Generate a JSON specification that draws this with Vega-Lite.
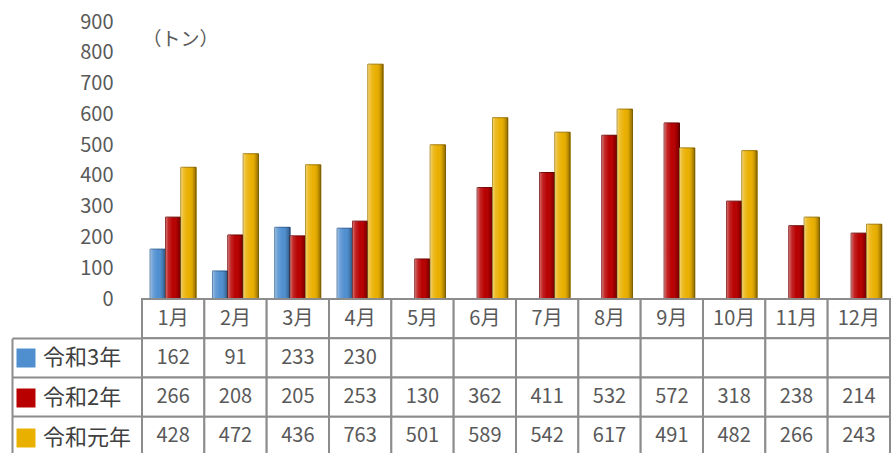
{
  "$schema": "https://vega.github.io/schema/vega-lite/v6.json",
  "background": "white",
  "padding": {"left": 11, "top": 12, "right": 6, "bottom": 0},
  "spacing": 0,
  "bounds": "flush",
  "config": {
    "view": {"stroke": null},
    "font": "Noto Sans CJK JP",
    "axis": {"labelFont": "Noto Sans CJK JP", "titleFont": "Noto Sans CJK JP"},
    "legend": {"labelFont": "Noto Sans CJK JP"}
  },
  "datasets": {
    "sales": [
      {"month": "1月", "series": "令和3年", "value": 162},
      {"month": "1月", "series": "令和2年", "value": 266},
      {"month": "1月", "series": "令和元年", "value": 428},
      {"month": "2月", "series": "令和3年", "value": 91},
      {"month": "2月", "series": "令和2年", "value": 208},
      {"month": "2月", "series": "令和元年", "value": 472},
      {"month": "3月", "series": "令和3年", "value": 233},
      {"month": "3月", "series": "令和2年", "value": 205},
      {"month": "3月", "series": "令和元年", "value": 436},
      {"month": "4月", "series": "令和3年", "value": 230},
      {"month": "4月", "series": "令和2年", "value": 253},
      {"month": "4月", "series": "令和元年", "value": 763},
      {"month": "5月", "series": "令和3年", "value": null},
      {"month": "5月", "series": "令和2年", "value": 130},
      {"month": "5月", "series": "令和元年", "value": 501},
      {"month": "6月", "series": "令和3年", "value": null},
      {"month": "6月", "series": "令和2年", "value": 362},
      {"month": "6月", "series": "令和元年", "value": 589},
      {"month": "7月", "series": "令和3年", "value": null},
      {"month": "7月", "series": "令和2年", "value": 411},
      {"month": "7月", "series": "令和元年", "value": 542},
      {"month": "8月", "series": "令和3年", "value": null},
      {"month": "8月", "series": "令和2年", "value": 532},
      {"month": "8月", "series": "令和元年", "value": 617},
      {"month": "9月", "series": "令和3年", "value": null},
      {"month": "9月", "series": "令和2年", "value": 572},
      {"month": "9月", "series": "令和元年", "value": 491},
      {"month": "10月", "series": "令和3年", "value": null},
      {"month": "10月", "series": "令和2年", "value": 318},
      {"month": "10月", "series": "令和元年", "value": 482},
      {"month": "11月", "series": "令和3年", "value": null},
      {"month": "11月", "series": "令和2年", "value": 238},
      {"month": "11月", "series": "令和元年", "value": 266},
      {"month": "12月", "series": "令和3年", "value": null},
      {"month": "12月", "series": "令和2年", "value": 214},
      {"month": "12月", "series": "令和元年", "value": 243}
    ],
    "months": [
      {"month": "1月"}, {"month": "2月"}, {"month": "3月"}, {"month": "4月"},
      {"month": "5月"}, {"month": "6月"}, {"month": "7月"}, {"month": "8月"},
      {"month": "9月"}, {"month": "10月"}, {"month": "11月"}, {"month": "12月"}
    ]
  },
  "vconcat": [
    {
      "width": 748,
      "height": 277,
      "data": {"name": "sales"},
      "transform": [{"filter": {"field": "value", "valid": true}}],
      "encoding": {
        "x": {
          "field": "month", "type": "nominal", "sort": null,
          "scale": {"paddingInner": 0, "paddingOuter": 0},
          "axis": {"title": null, "labels": false, "ticks": false, "domainColor": "#8c8c8c", "domainWidth": 2.5}
        },
        "xOffset": {
          "field": "series", "type": "nominal",
          "sort": ["令和3年", "令和2年", "令和元年"],
          "scale": {"domain": ["令和3年", "令和2年", "令和元年"], "paddingInner": 0, "paddingOuter": 0.53}
        },
        "y": {
          "field": "value", "type": "quantitative",
          "scale": {"domain": [0, 900], "nice": false},
          "axis": {
            "values": [0, 100, 200, 300, 400, 500, 600, 700, 800, 900],
            "grid": false, "domain": false, "ticks": false,
            "labelPadding": 29, "labelColor": "#595959", "labelFontSize": 20,
            "title": "（トン）", "titleAngle": 0, "titleX": 0, "titleY": 17,
            "titleAlign": "left", "titleBaseline": "middle",
            "titleColor": "#595959", "titleFontSize": 19, "titleFontWeight": "normal"
          }
        }
      },
      "layer": [
        {
          "mark": {"type": "bar", "strokeWidth": 1},
          "encoding": {
            "color": {
              "field": "series", "type": "nominal",
              "scale": {"domain": ["令和3年", "令和2年", "令和元年"], "range": ["#4F8FD0", "#B80000", "#EAB000"]},
              "legend": {
                "orient": "none", "legendX": -127, "legendY": 325, "title": null,
                "direction": "vertical", "symbolType": "square", "symbolSize": 361,
                "symbolStrokeWidth": 0, "labelFontSize": 22, "labelColor": "#404040",
                "labelOffset": 6, "rowPadding": 18, "padding": 0
              }
            },
            "stroke": {
              "field": "series", "type": "nominal",
              "scale": {"domain": ["令和3年", "令和2年", "令和元年"], "range": ["#2F5F95", "#700000", "#A07800"]},
              "legend": null
            }
          }
        },
        {
          "mark": {
            "type": "bar",
            "color": {
              "gradient": "linear", "x1": 0, "x2": 1, "y1": 0, "y2": 0,
              "stops": [
                {"offset": 0, "color": "rgba(255,255,255,0.45)"},
                {"offset": 0.2, "color": "rgba(255,255,255,0.15)"},
                {"offset": 0.5, "color": "rgba(255,255,255,0)"},
                {"offset": 0.75, "color": "rgba(0,0,0,0.08)"},
                {"offset": 1, "color": "rgba(0,0,0,0.4)"}
              ]
            }
          }
        }
      ]
    },
    {
      "width": 748,
      "height": 157,
      "layer": [
        {
          "data": {"name": "months"},
          "mark": {"type": "rect", "fill": "white", "stroke": "#8c8c8c", "strokeWidth": 2},
          "encoding": {
            "x": {"field": "month", "type": "nominal", "sort": null, "scale": {"paddingInner": 0, "paddingOuter": 0}, "axis": null},
            "y": {
              "datum": "月", "type": "nominal",
              "scale": {"domain": ["月", "令和3年", "令和2年", "令和元年"], "paddingInner": 0, "paddingOuter": 0},
              "axis": {
                "title": null, "labels": false,
                "values": ["令和3年", "令和2年", "令和元年"], "bandPosition": 0,
                "tickSize": -130, "tickColor": "#8c8c8c", "tickWidth": 2,
                "offset": 130, "domain": true, "domainColor": "#8c8c8c", "domainWidth": 2,
                "domainDash": [0, 39.25, 200]
              }
            }
          }
        },
        {
          "data": {"name": "months"},
          "mark": {"type": "text", "fontSize": 20, "color": "#595959"},
          "encoding": {
            "x": {"field": "month", "type": "nominal", "sort": null},
            "y": {"datum": "月", "type": "nominal"},
            "text": {"field": "month"}
          }
        },
        {
          "data": {"name": "sales"},
          "mark": {"type": "rect", "fill": "white", "stroke": "#8c8c8c", "strokeWidth": 2},
          "encoding": {
            "x": {"field": "month", "type": "nominal", "sort": null},
            "y": {"field": "series", "type": "nominal"}
          }
        },
        {
          "data": {"name": "sales"},
          "transform": [{"filter": {"field": "value", "valid": true}}],
          "mark": {"type": "text", "fontSize": 20, "color": "#595959"},
          "encoding": {
            "x": {"field": "month", "type": "nominal", "sort": null},
            "y": {"field": "series", "type": "nominal"},
            "text": {"field": "value", "type": "quantitative"}
          }
        }
      ]
    }
  ]
}
